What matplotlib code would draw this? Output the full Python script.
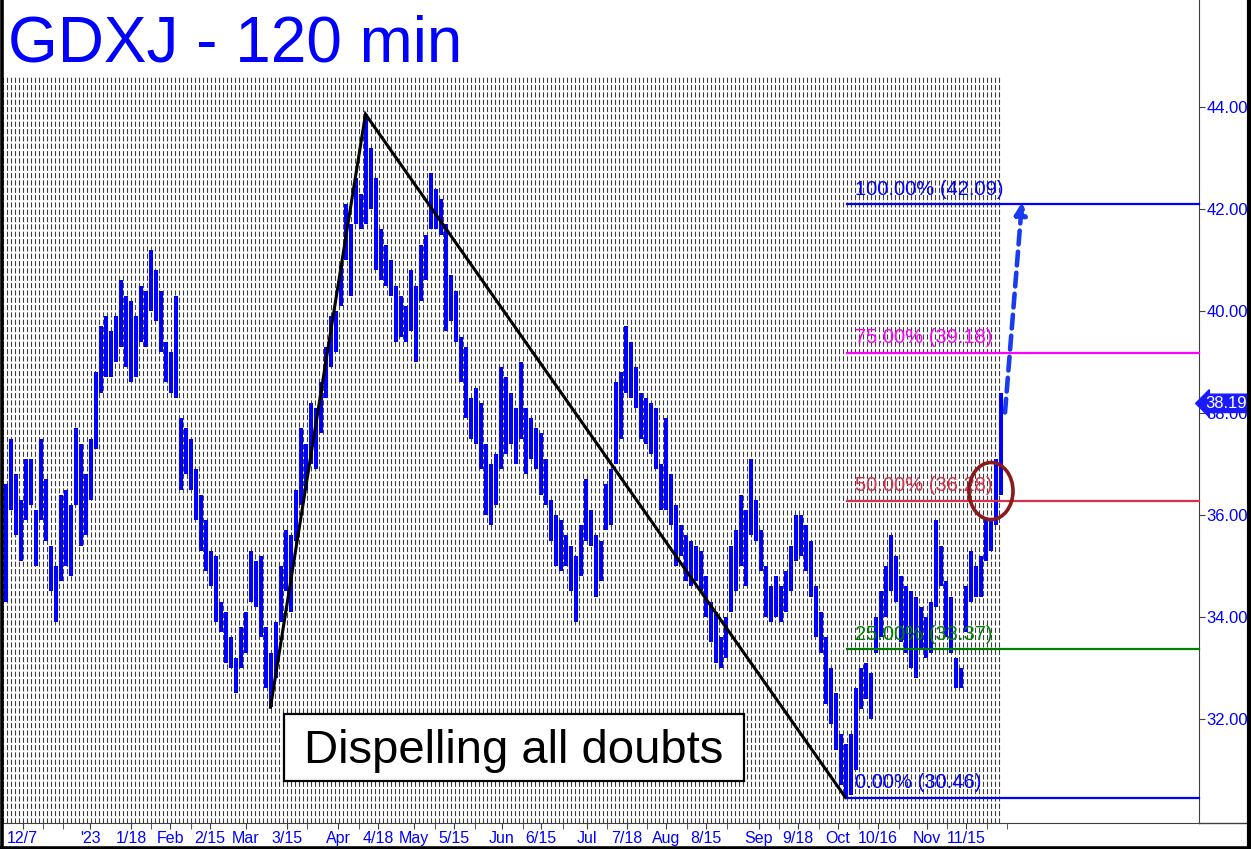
import numpy as np
import matplotlib.pyplot as plt
from matplotlib.patches import Ellipse, Rectangle
from matplotlib.lines import Line2D
from matplotlib.transforms import blended_transform_factory

plt.rcParams['font.family'] = ['Liberation Sans', 'DejaVu Sans']

# GDXJ 120-min bars (one high/low per group of bars)
highs = [
    36.6, 37.5, 36.8, 36.3, 37.1, 37.1, 36.1, 37.5, 36.7, 35.4,
    35.0, 36.4, 36.5, 36.2, 37.7, 37.4, 36.8, 37.5, 38.8, 39.7,
    39.9, 39.6, 39.9, 40.6, 40.3, 40.2, 39.9, 40.5, 40.4, 41.2,
    40.8, 40.4, 39.4, 39.2, 40.3, 37.9, 37.7, 37.5, 36.9, 36.4,
    35.9, 35.3, 35.2, 34.3, 34.1, 33.6, 33.2, 33.8, 34.1, 35.3,
    35.1, 35.2, 33.8, 33.3, 33.9, 35.0, 35.7, 35.6, 36.5, 37.7,
    37.4, 38.2, 38.1, 38.6, 39.3, 39.9, 40.0, 40.9, 42.1, 41.7,
    42.6, 42.3, 43.86, 43.2, 42.6, 41.6, 41.3, 41.0, 40.5, 40.3,
    40.1, 40.8, 40.5, 41.3, 41.5, 42.7, 42.4, 42.2, 41.7, 40.7,
    40.4, 39.5, 39.3, 38.3, 38.5, 38.2, 37.4, 37.0, 37.2, 38.9,
    38.7, 38.4, 38.1, 39.0, 38.1, 37.9, 37.7, 37.6, 37.1, 36.3,
    36.0, 35.9, 35.6, 35.4, 35.2, 35.8, 36.7, 36.1, 35.6, 35.5,
    36.6, 36.9, 38.6, 38.8, 39.7, 39.4, 38.9, 38.4, 38.3, 38.2,
    38.1, 37.0, 37.9, 36.8, 36.2, 35.8, 35.6, 35.5, 35.4, 35.3,
    34.8, 34.3, 34.1, 33.6, 34.0, 35.4, 35.7, 36.4, 36.1, 37.1,
    36.3, 35.7, 35.0, 34.6, 34.8, 34.6, 34.9, 35.4, 36.0, 36.0,
    35.8, 35.5, 34.6, 34.1, 33.6, 33.0, 32.5, 31.7, 31.5, 31.7,
    32.6, 33.0, 33.1, 32.9, 34.0, 34.5, 35.0, 35.6, 35.2, 34.8,
    34.6, 34.5, 34.4, 34.2, 34.0, 34.3, 35.9, 35.4, 34.7, 34.4,
    33.2, 33.0, 34.6, 35.3, 35.0, 35.2, 35.9, 35.9, 37.1, 38.4,
]
lows = [
    34.3, 36.1, 35.6, 35.1, 35.9, 36.2, 35.0, 35.9, 35.5, 34.5,
    33.9, 34.7, 35.0, 34.8, 36.2, 35.4, 35.6, 36.3, 37.3, 38.4,
    38.7, 38.7, 39.0, 39.3, 38.9, 38.6, 38.7, 39.4, 39.3, 40.0,
    39.8, 39.2, 38.6, 38.4, 38.3, 36.5, 36.8, 36.5, 35.9, 35.3,
    34.9, 34.6, 33.9, 33.7, 33.1, 33.0, 32.5, 33.0, 33.3, 34.3,
    34.2, 33.6, 32.6, 32.23, 32.8, 33.9, 34.5, 34.1, 35.5, 36.2,
    36.5, 37.0, 36.9, 37.6, 38.3, 38.9, 39.2, 40.1, 41.0, 40.3,
    41.7, 41.6, 41.7, 42.0, 40.8, 40.6, 40.5, 40.3, 39.4, 39.5,
    39.4, 39.6, 39.0, 40.2, 40.6, 41.6, 41.6, 41.5, 39.6, 39.8,
    39.4, 38.6, 37.9, 37.5, 37.4, 36.9, 36.0, 35.8, 36.2, 36.9,
    37.2, 37.4, 37.0, 37.5, 36.8, 37.1, 36.9, 36.4, 36.2, 35.5,
    35.0, 34.9, 35.0, 34.5, 33.9, 34.8, 35.5, 35.4, 34.4, 34.7,
    35.7, 35.8, 37.0, 37.5, 38.4, 38.3, 38.1, 37.5, 37.4, 37.2,
    36.9, 36.1, 36.1, 35.8, 35.0, 35.2, 34.7, 34.6, 34.7, 34.5,
    34.0, 33.5, 33.1, 33.0, 33.2, 34.1, 34.5, 35.0, 34.6, 35.6,
    35.5, 34.9, 34.0, 33.9, 34.0, 33.9, 34.1, 34.5, 35.1, 35.2,
    34.9, 34.4, 33.6, 33.3, 32.3, 31.9, 31.4, 30.7, 30.46, 30.5,
    31.0, 32.2, 32.4, 32.0, 33.3, 33.6, 34.0, 34.5, 34.3, 33.5,
    33.3, 33.0, 32.8, 33.4, 33.2, 33.3, 34.2, 34.6, 33.6, 33.3,
    32.6, 32.6, 33.7, 34.3, 34.4, 34.4, 35.1, 35.3, 35.8, 36.4,
]
last_price = 38.19

tick_labels = ['12/7', "'23", '1/18', 'Feb', '2/15', 'Mar', '3/15', 'Apr',
               '4/18', 'May', '5/15', 'Jun', '6/15', 'Jul', '7/18', 'Aug',
               '8/15', 'Sep', '9/18', 'Oct', '10/16', 'Nov', '11/15']
tick_bars = [3.4, 16.9, 25.1, 32.9, 40.9, 48.1, 56.3, 66.5, 74.5, 81.7,
             89.7, 99.3, 107.1, 116.3, 124.3, 132.1, 140.1, 150.7, 158.5,
             166.5, 174.5, 184.3, 192.1]
minor_tick_bars = [7.4, 11.4, 29.0, 37.0, 60.2, 70.6, 85.8, 93.8, 103.4,
                   111.4, 120.2, 128.2, 136.2, 144.2, 154.6, 162.6, 170.6,
                   178.6, 188.2, 196.2, 200.2]

fib_ratios = [1.0, 0.75, 0.5, 0.25, 0.0]
fib_colors = ['#0000ff', '#ff00ff', '#d8304c', '#008000', '#0000ff']

BLUE = '#0000ff'
W, H = 1251, 849
fig = plt.figure(figsize=(W / 100, H / 100), dpi=100)
ax = fig.add_axes([3 / W, 26 / H, 1196 / W, 823 / H])
ax.set_xlim(-0.5, -0.5 + 1196 / 5)
ax.set_ylim(29.96, 46.10)

# hatched background of the price area
grid_x = (np.arange(3, 1001, 4) - 3) / 5 - 0.5
ax.vlines(grid_x, 29.96, 44.63, color='#3c3c3c', lw=0.8,
          linestyles=[(0, (4.6, 2.0))], zorder=0)

n = len(highs)
bars = np.arange(n)
ax.vlines(bars, lows, highs, color=BLUE, lw=2.9, zorder=2)

# swing points: A low, peak, C low
a = int(np.argmin(lows[:100]))
p = int(np.argmax(highs))
c = int(np.argmin(lows))
ax.plot([a, p, c], [lows[a], highs[p], lows[c]], color='black', lw=2.2,
        zorder=3, solid_joinstyle='miter')

rng = highs[p] - lows[a]
x_right = ax.get_xlim()[1]
for r, col in zip(fib_ratios, fib_colors):
    lvl = lows[c] + r * rng
    ax.plot([c + 0.3, x_right], [lvl, lvl], color=col, lw=1.6, zorder=3,
            clip_on=False)
    ax.annotate(f'{r * 100:.2f}% ({lvl + 1e-9:.2f})', xy=(c + 0.3, lvl),
                xytext=(5.5, 4.0), textcoords='offset points', color=col,
                fontsize=14.5, va='bottom', ha='left', zorder=4)

# target arrow and circle
target = lows[c] + rng
ax.annotate('', xy=(n + 3.3, target + 0.05), xytext=(n - 0.1, last_price - 0.18),
            arrowprops=dict(arrowstyle='-|>,head_length=0.7,head_width=0.35',
                            lw=3.3, ls=(0, (3.0, 1.6)), color='#1a3cf0',
                            shrinkA=0, shrinkB=0), zorder=5)
ax.add_patch(Ellipse((n - 2.9, 36.47), 8.8, 1.12, fill=False,
                     ec='#8b1a1a', lw=2.6, zorder=5))

# axes styling
for s in ['left', 'top']:
    ax.spines[s].set_visible(False)
ax.spines['right'].set_color('#404040')
ax.spines['bottom'].set_color('#404040')
ax.yaxis.tick_right()
ax.set_yticks(np.arange(32, 45, 2))
ax.set_yticklabels([f'{v:.2f}' for v in np.arange(32, 45, 2)])
ax.tick_params(axis='y', colors='#404040', labelcolor=BLUE, labelsize=12,
               length=4.3, pad=1)
ax.set_xticks(tick_bars, tick_labels)
ax.set_xticks(minor_tick_bars, minor=True)
ax.tick_params(axis='x', which='both', colors='#404040', labelcolor=BLUE,
               labelsize=11.5, length=4.3, pad=1.5)

ax.annotate(f'{last_price:.2f}', xy=(1.0, last_price),
            xycoords=blended_transform_factory(ax.transAxes, ax.transData),
            xytext=(4.5, 0), textcoords='offset points', ha='left',
            va='center', color='white', fontsize=12, zorder=6,
            bbox=dict(boxstyle='larrow,pad=0.1', fc='#1a1aff', ec='#1a1aff'))

fig.text(8 / W, 1 - 62 / H, 'GDXJ - 120 min', fontsize=46, color=BLUE,
         va='baseline', ha='left')

fig.patches.append(Rectangle((284 / W, 1 - 781 / H), 460 / W, 67 / H,
                             transform=fig.transFigure, fc='white',
                             ec='black', lw=1.6, zorder=5))
fig.text(514 / W, 1 - 763 / H, 'Dispelling all doubts', fontsize=34,
         color='black', ha='center', va='baseline', zorder=6)

# frame around the picture
fig.add_artist(Line2D([1199 / W, 1], [26 / H, 26 / H], color='#404040', lw=1))
fig.add_artist(Line2D([1.5 / W, 1.5 / W], [0, 1], color='black', lw=2.6))
fig.add_artist(Line2D([0, 1], [1.5 / H, 1.5 / H], color='black', lw=2.6))
fig.add_artist(Line2D([1248.5 / W, 1248.5 / W], [0, 1], color='black', lw=3))

fig.savefig('out.png', dpi=100)
